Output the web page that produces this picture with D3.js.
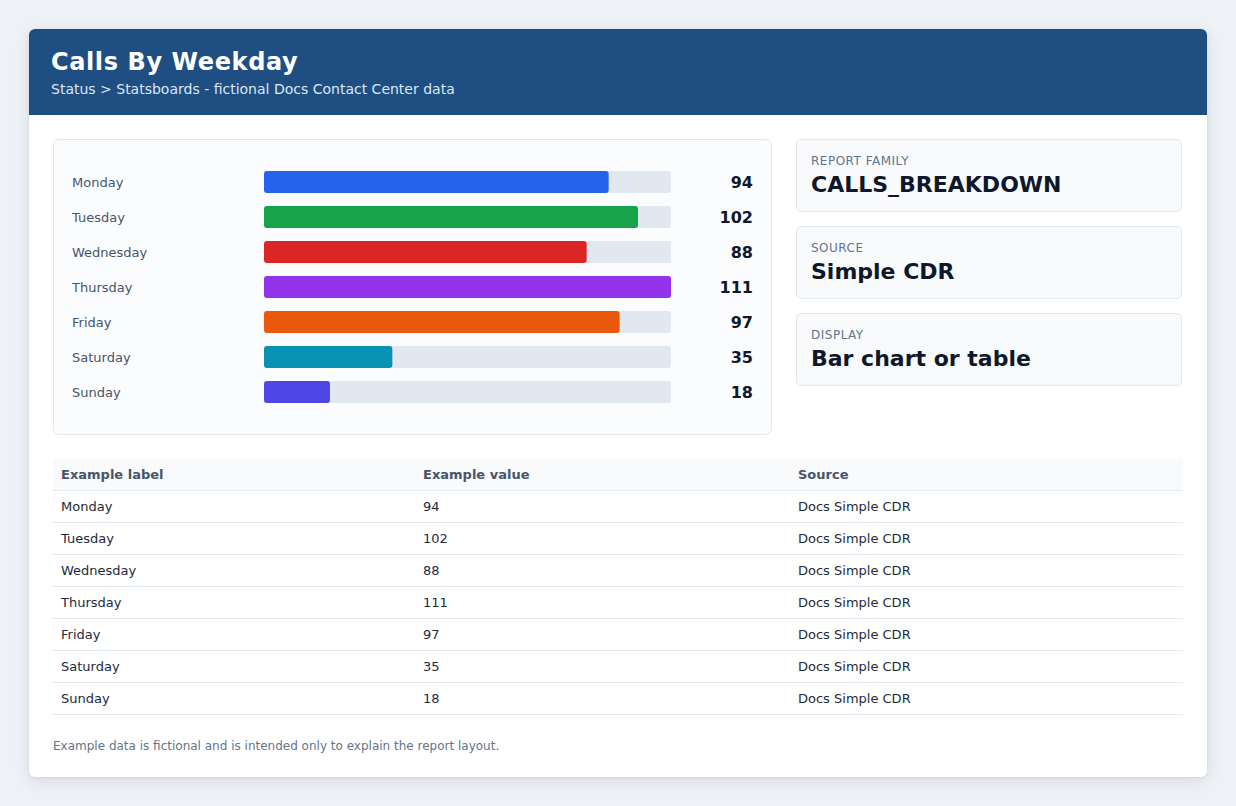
<!DOCTYPE html>
<html><head><meta charset="utf-8">
<script src="https://cdn.jsdelivr.net/npm/d3@7"></script>
<style>
html,body{margin:0;padding:0;}
body{width:1236px;height:806px;background:#eef2f7;font-family:"DejaVu Sans",sans-serif;position:relative;overflow:hidden;}
#card{position:absolute;left:29px;top:29px;width:1178px;height:748px;background:#fff;border-radius:6px;box-shadow:0 4px 16px rgba(15,23,42,0.10),0 1px 3px rgba(15,23,42,0.06);overflow:hidden;}
#hdr{position:absolute;left:0;top:0;width:1178px;height:86px;background:#1f4f82;}
#title{position:absolute;left:22px;top:16px;font-size:24px;letter-spacing:0.6px;font-weight:bold;color:#fff;line-height:34px;white-space:nowrap;}
#sub{position:absolute;left:22px;top:51px;font-size:14px;color:#dbe7f5;line-height:18px;white-space:nowrap;}
#panel{position:absolute;left:24px;top:110px;width:717px;height:294px;background:#fbfcfe;border:1px solid #e2e8f0;border-radius:6px;}
#panel svg{position:absolute;left:0;top:0;}
.info{position:absolute;left:767px;width:384px;height:71px;background:#f8fafc;border:1px solid #e2e8f0;border-radius:5px;}
.info .k{position:absolute;left:14px;top:14px;font-size:12px;color:#64748b;letter-spacing:0.5px;line-height:14px;white-space:nowrap;}
.info .v{position:absolute;left:14px;top:31px;font-size:22px;font-weight:bold;color:#0f172a;line-height:28px;white-space:nowrap;}
#tbl{position:absolute;left:24px;top:430px;width:1130px;border-collapse:collapse;table-layout:fixed;}
#tbl th{background:#f8fafc;font-size:13px;font-weight:bold;color:#475569;text-align:left;height:31px;padding:0 8px;border-bottom:1px solid #e2e8f0;}
#tbl td{font-size:13px;color:#1e293b;height:31px;padding:0 8px;border-bottom:1px solid #e2e8f0;}
#foot{position:absolute;left:24px;top:709px;font-size:12px;color:#64748b;line-height:16px;white-space:nowrap;}
</style></head>
<body>
<div id="card">
  <div id="hdr"><div id="title">Calls By Weekday</div><div id="sub">Status &gt; Statsboards - fictional Docs Contact Center data</div></div>
  <div id="panel"></div>
  <div class="info" style="top:110px"><div class="k">REPORT FAMILY</div><div class="v">CALLS_BREAKDOWN</div></div>
  <div class="info" style="top:197px"><div class="k">SOURCE</div><div class="v">Simple CDR</div></div>
  <div class="info" style="top:284px"><div class="k">DISPLAY</div><div class="v">Bar chart or table</div></div>
  <table id="tbl"><colgroup><col style="width:362px"><col style="width:375px"><col style="width:393px"></colgroup><thead><tr></tr></thead><tbody></tbody></table>
  <div id="foot">Example data is fictional and is intended only to explain the report layout.</div>
</div>
<script>
const days = ["Monday","Tuesday","Wednesday","Thursday","Friday","Saturday","Sunday"];
const calls = [94,102,88,111,97,35,18];
const barColors = ["#2563eb","#16a34a","#dc2626","#9333ea","#ea580c","#0891b2","#4f46e5"];
const columns = ["Example label","Example value","Source"];
const sourceName = "Docs Simple CDR";

const data = days.map((d,i)=>({day:d,value:calls[i],color:barColors[i]}));

const W = 717, H = 294;
const svg = d3.select("#panel").append("svg").attr("width",W).attr("height",H);
const x = d3.scaleLinear().domain([0,d3.max(calls)]).range([0,407]);
const y = d3.scaleBand().domain(days).range([24.5,24.5+245]).paddingInner(13/35).paddingOuter(13/70);
const bx = 210;

const g = svg.selectAll("g.row").data(data).join("g").attr("class","row")
  .attr("transform",d=>`translate(0,${y(d.day)})`);
g.append("text").attr("x",18).attr("y",y.bandwidth()/2).attr("dy","0.35em")
  .attr("font-size",13).attr("fill","#475569").text(d=>d.day);
g.append("rect").attr("x",bx).attr("y",0).attr("width",x.range()[1]).attr("height",y.bandwidth())
  .attr("rx",3).attr("fill","#e2e8f0");
g.append("rect").attr("x",bx).attr("y",0).attr("width",d=>x(d.value)).attr("height",y.bandwidth())
  .attr("rx",3).attr("fill",d=>d.color);
g.append("text").attr("x",699).attr("y",y.bandwidth()/2).attr("dy","0.35em").attr("text-anchor","end")
  .attr("font-size",16).attr("font-weight","bold").attr("fill","#0f172a").text(d=>d.value);

d3.select("#tbl thead tr").selectAll("th").data(columns).join("th").text(d=>d);
d3.select("#tbl tbody").selectAll("tr").data(data).join("tr")
  .selectAll("td").data(d=>[d.day,d.value,sourceName]).join("td").text(d=>d);
</script>
</body></html>
